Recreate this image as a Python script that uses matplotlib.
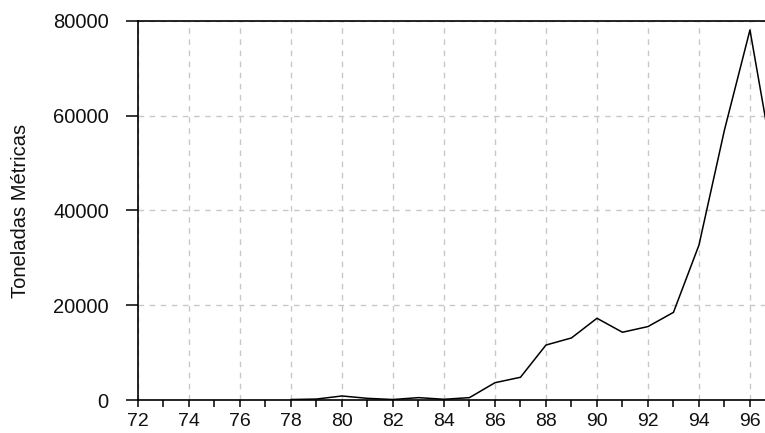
import matplotlib
matplotlib.use("Agg")
import matplotlib.pyplot as plt
from matplotlib.ticker import MultipleLocator, FuncFormatter

years = [78, 79, 80, 81, 82, 83, 84, 85, 86, 87, 88, 89, 90, 91, 92, 93, 94, 95, 96, 97]
values = [100, 200, 850, 350, 100, 500, 150, 500, 3650, 4800, 11600, 13100, 17250,
          14300, 15500, 18500, 32700, 57000, 78100, 47400]
ylabel = "Toneladas Métricas"

plt.rcParams['font.family'] = ['Liberation Sans', 'DejaVu Sans']

fig = plt.figure(figsize=(7.65, 4.33), dpi=100)
ax = fig.add_axes([138/765, 1 - 400/433, 1 - 138/765, (400 - 21)/433])

ax.plot(years, values, color='black', lw=1.1)

ax.set_xlim(72, 96.59)
ax.set_ylim(0, 80000)
ax.xaxis.set_major_locator(MultipleLocator(2))
ax.xaxis.set_minor_locator(MultipleLocator(1))
ax.yaxis.set_major_locator(MultipleLocator(20000))
ax.xaxis.set_major_formatter(FuncFormatter(lambda v, p: f"{int(v)}"))

ax.grid(True, which='major', color='#c8c8c8', linestyle=(0, (4, 4)), lw=1)
ax.spines['right'].set_visible(False)
for s in ['left', 'bottom', 'top']:
    ax.spines[s].set_linewidth(1.2)
    ax.spines[s].set_color('black')

ax.tick_params(axis='x', which='both', direction='out', length=5, width=1.1,
               labelsize=14, pad=4, colors='black', labelcolor='#111111')
ax.tick_params(axis='y', which='major', direction='out', length=9, width=1.1,
               labelsize=14.5, pad=12, colors='black', labelcolor='#111111')
ax.set_ylabel(ylabel, fontsize=14.5, color='#111111')
ax.yaxis.set_label_coords(-(138 - 30) / (765 - 138), 0.5)

fig.savefig("out.png", dpi=100)
